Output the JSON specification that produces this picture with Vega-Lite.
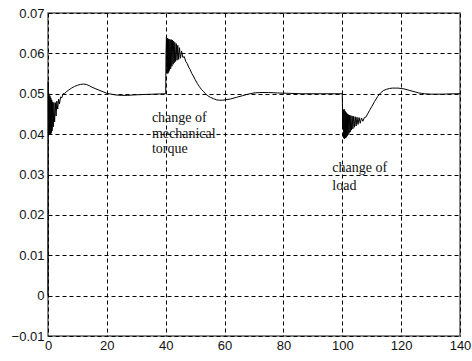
{
  "$schema": "https://vega.github.io/schema/vega-lite/v6.json",
  "width": 412,
  "height": 323,
  "autosize": {"type": "none"},
  "padding": {"left": 48, "top": 13, "right": 12, "bottom": 25},
  "background": "white",
  "config": {
    "view": {"stroke": "#606060", "strokeWidth": 1.5},
    "axis": {
      "grid": true,
      "gridColor": "#000000",
      "gridDash": [4, 3],
      "gridWidth": 1,
      "gridOpacity": 1,
      "domain": false,
      "ticks": false,
      "labelFont": "Liberation Sans",
      "labelFontSize": 13,
      "labelColor": "#111111",
      "title": null
    }
  },
  "datasets": {
    "curve": [
      {"t": 0, "v": 0.000},
      {"t": 0.08, "v": 0.053},
      {"t": 0.2, "v": 0.040},
      {"t": 0.35, "v": 0.050},
      {"t": 0.5, "v": 0.0398},
      {"t": 0.65, "v": 0.0495},
      {"t": 0.8, "v": 0.040},
      {"t": 0.95, "v": 0.049},
      {"t": 1.1, "v": 0.0402},
      {"t": 1.25, "v": 0.0485},
      {"t": 1.4, "v": 0.0408},
      {"t": 1.6, "v": 0.048},
      {"t": 1.8, "v": 0.0418},
      {"t": 2.0, "v": 0.0478},
      {"t": 2.25, "v": 0.043},
      {"t": 2.5, "v": 0.0478},
      {"t": 2.75, "v": 0.0445},
      {"t": 3.0, "v": 0.0482},
      {"t": 3.3, "v": 0.0462},
      {"t": 3.6, "v": 0.0487},
      {"t": 3.9, "v": 0.0475},
      {"t": 4.3, "v": 0.0492},
      {"t": 4.7, "v": 0.0490},
      {"t": 5.1, "v": 0.0500},
      {"t": 5.6, "v": 0.0500},
      {"t": 6.2, "v": 0.0505},
      {"t": 7.0, "v": 0.0509},
      {"t": 8, "v": 0.0514},
      {"t": 9, "v": 0.0518},
      {"t": 10, "v": 0.0521},
      {"t": 11, "v": 0.0523},
      {"t": 12, "v": 0.0524},
      {"t": 13, "v": 0.0523},
      {"t": 14, "v": 0.0520},
      {"t": 15, "v": 0.0516},
      {"t": 16, "v": 0.0513},
      {"t": 17, "v": 0.0510},
      {"t": 18, "v": 0.0507},
      {"t": 19, "v": 0.0504},
      {"t": 20, "v": 0.0501},
      {"t": 21.5, "v": 0.0499},
      {"t": 23, "v": 0.0497},
      {"t": 25, "v": 0.0496},
      {"t": 27, "v": 0.0496},
      {"t": 29, "v": 0.0497},
      {"t": 32, "v": 0.0498},
      {"t": 36, "v": 0.0499},
      {"t": 39.9, "v": 0.0500},
      {"t": 40.0, "v": 0.0500},
      {"t": 40.1, "v": 0.0600},
      {"t": 40.25, "v": 0.0640},
      {"t": 40.4, "v": 0.0552},
      {"t": 40.55, "v": 0.0638},
      {"t": 40.7, "v": 0.0550},
      {"t": 40.85, "v": 0.0636},
      {"t": 41.0, "v": 0.0553},
      {"t": 41.15, "v": 0.0635},
      {"t": 41.3, "v": 0.0558},
      {"t": 41.5, "v": 0.0634},
      {"t": 41.7, "v": 0.0562},
      {"t": 41.9, "v": 0.0634},
      {"t": 42.1, "v": 0.0568},
      {"t": 42.3, "v": 0.0633},
      {"t": 42.5, "v": 0.0573},
      {"t": 42.7, "v": 0.0630},
      {"t": 42.9, "v": 0.0577},
      {"t": 43.1, "v": 0.0627},
      {"t": 43.35, "v": 0.0580},
      {"t": 43.6, "v": 0.0624},
      {"t": 43.85, "v": 0.0583},
      {"t": 44.1, "v": 0.0620},
      {"t": 44.4, "v": 0.0585},
      {"t": 44.7, "v": 0.0614},
      {"t": 45.0, "v": 0.0588},
      {"t": 45.4, "v": 0.0606},
      {"t": 45.8, "v": 0.0590},
      {"t": 46.3, "v": 0.0592},
      {"t": 46.8, "v": 0.0580},
      {"t": 47.3, "v": 0.0575},
      {"t": 47.8, "v": 0.0566},
      {"t": 48.3, "v": 0.0560},
      {"t": 48.8, "v": 0.0551},
      {"t": 49.4, "v": 0.0544},
      {"t": 50, "v": 0.0535},
      {"t": 50.7, "v": 0.0526},
      {"t": 51.4, "v": 0.0518},
      {"t": 52.1, "v": 0.0511},
      {"t": 52.8, "v": 0.0506},
      {"t": 53.5, "v": 0.0500},
      {"t": 54.3, "v": 0.0495},
      {"t": 55.2, "v": 0.0491},
      {"t": 56.2, "v": 0.0488},
      {"t": 57.2, "v": 0.0485},
      {"t": 58.2, "v": 0.0484},
      {"t": 59.2, "v": 0.0484},
      {"t": 60.2, "v": 0.0485},
      {"t": 62, "v": 0.0487},
      {"t": 64, "v": 0.0491},
      {"t": 66, "v": 0.0495},
      {"t": 68, "v": 0.0499},
      {"t": 70, "v": 0.0502},
      {"t": 72, "v": 0.0503},
      {"t": 75, "v": 0.0503},
      {"t": 78, "v": 0.0502},
      {"t": 82, "v": 0.0501},
      {"t": 86, "v": 0.0500},
      {"t": 99.9, "v": 0.0500},
      {"t": 100.0, "v": 0.0500},
      {"t": 100.15, "v": 0.0420},
      {"t": 100.3, "v": 0.0460},
      {"t": 100.45, "v": 0.0390},
      {"t": 100.6, "v": 0.0462},
      {"t": 100.75, "v": 0.0388},
      {"t": 100.9, "v": 0.0458},
      {"t": 101.05, "v": 0.0390},
      {"t": 101.2, "v": 0.0455},
      {"t": 101.35, "v": 0.0392},
      {"t": 101.5, "v": 0.0452},
      {"t": 101.65, "v": 0.0395},
      {"t": 101.8, "v": 0.0450},
      {"t": 101.95, "v": 0.0398},
      {"t": 102.1, "v": 0.0448},
      {"t": 102.3, "v": 0.0402},
      {"t": 102.5, "v": 0.0447},
      {"t": 102.7, "v": 0.0405},
      {"t": 102.9, "v": 0.0446},
      {"t": 103.1, "v": 0.0410},
      {"t": 103.35, "v": 0.0445},
      {"t": 103.6, "v": 0.0413},
      {"t": 103.85, "v": 0.0444},
      {"t": 104.1, "v": 0.0417},
      {"t": 104.4, "v": 0.0443},
      {"t": 104.7, "v": 0.0420},
      {"t": 105.0, "v": 0.0442},
      {"t": 105.35, "v": 0.0424},
      {"t": 105.7, "v": 0.0441},
      {"t": 106.1, "v": 0.0427},
      {"t": 106.5, "v": 0.0440},
      {"t": 107.0, "v": 0.0432},
      {"t": 107.5, "v": 0.0441},
      {"t": 108.0, "v": 0.0442},
      {"t": 108.6, "v": 0.0450},
      {"t": 109.2, "v": 0.0458},
      {"t": 110, "v": 0.0468},
      {"t": 111, "v": 0.0481},
      {"t": 112, "v": 0.0493},
      {"t": 113, "v": 0.0502},
      {"t": 114, "v": 0.0508},
      {"t": 115, "v": 0.0511},
      {"t": 116, "v": 0.0513},
      {"t": 117, "v": 0.0514},
      {"t": 118, "v": 0.0514},
      {"t": 119, "v": 0.0514},
      {"t": 120, "v": 0.0513},
      {"t": 121, "v": 0.0512},
      {"t": 122, "v": 0.0510},
      {"t": 123, "v": 0.0508},
      {"t": 124, "v": 0.0506},
      {"t": 125, "v": 0.0504},
      {"t": 126, "v": 0.0502},
      {"t": 127, "v": 0.0501},
      {"t": 128, "v": 0.0500},
      {"t": 130, "v": 0.0499},
      {"t": 134, "v": 0.0499},
      {"t": 138, "v": 0.0500},
      {"t": 140, "v": 0.0500}
    ],
    "notes": [
      {"t": 35.3, "v": 0.0430, "label": "change of"},
      {"t": 35.3, "v": 0.03915, "label": "mechanical"},
      {"t": 35.3, "v": 0.0353, "label": "torque"},
      {"t": 96.6, "v": 0.0306, "label": "change of"},
      {"t": 96.6, "v": 0.0262, "label": "load"}
    ]
  },
  "layer": [
    {
      "data": {"name": "curve"},
      "mark": {"type": "line", "color": "#000000", "strokeWidth": 1, "interpolate": "linear"},
      "encoding": {
        "x": {
          "field": "t", "type": "quantitative",
          "scale": {"domain": [0, 140], "nice": false, "zero": false},
          "axis": {"values": [0, 20, 40, 60, 80, 100, 120, 140], "labelPadding": 3, "labelFlush": false}
        },
        "y": {
          "field": "v", "type": "quantitative",
          "scale": {"domain": [-0.01, 0.07], "nice": false, "zero": false},
          "axis": {"values": [-0.01, 0, 0.01, 0.02, 0.03, 0.04, 0.05, 0.06, 0.07], "format": ".2~f", "labelPadding": 4, "labelFlush": false}
        }
      }
    },
    {
      "data": {"name": "notes"},
      "mark": {"type": "text", "align": "left", "baseline": "alphabetic", "font": "Liberation Serif", "fontSize": 14, "color": "#111111"},
      "encoding": {
        "x": {"field": "t", "type": "quantitative"},
        "y": {"field": "v", "type": "quantitative"},
        "text": {"field": "label"}
      }
    }
  ]
}
